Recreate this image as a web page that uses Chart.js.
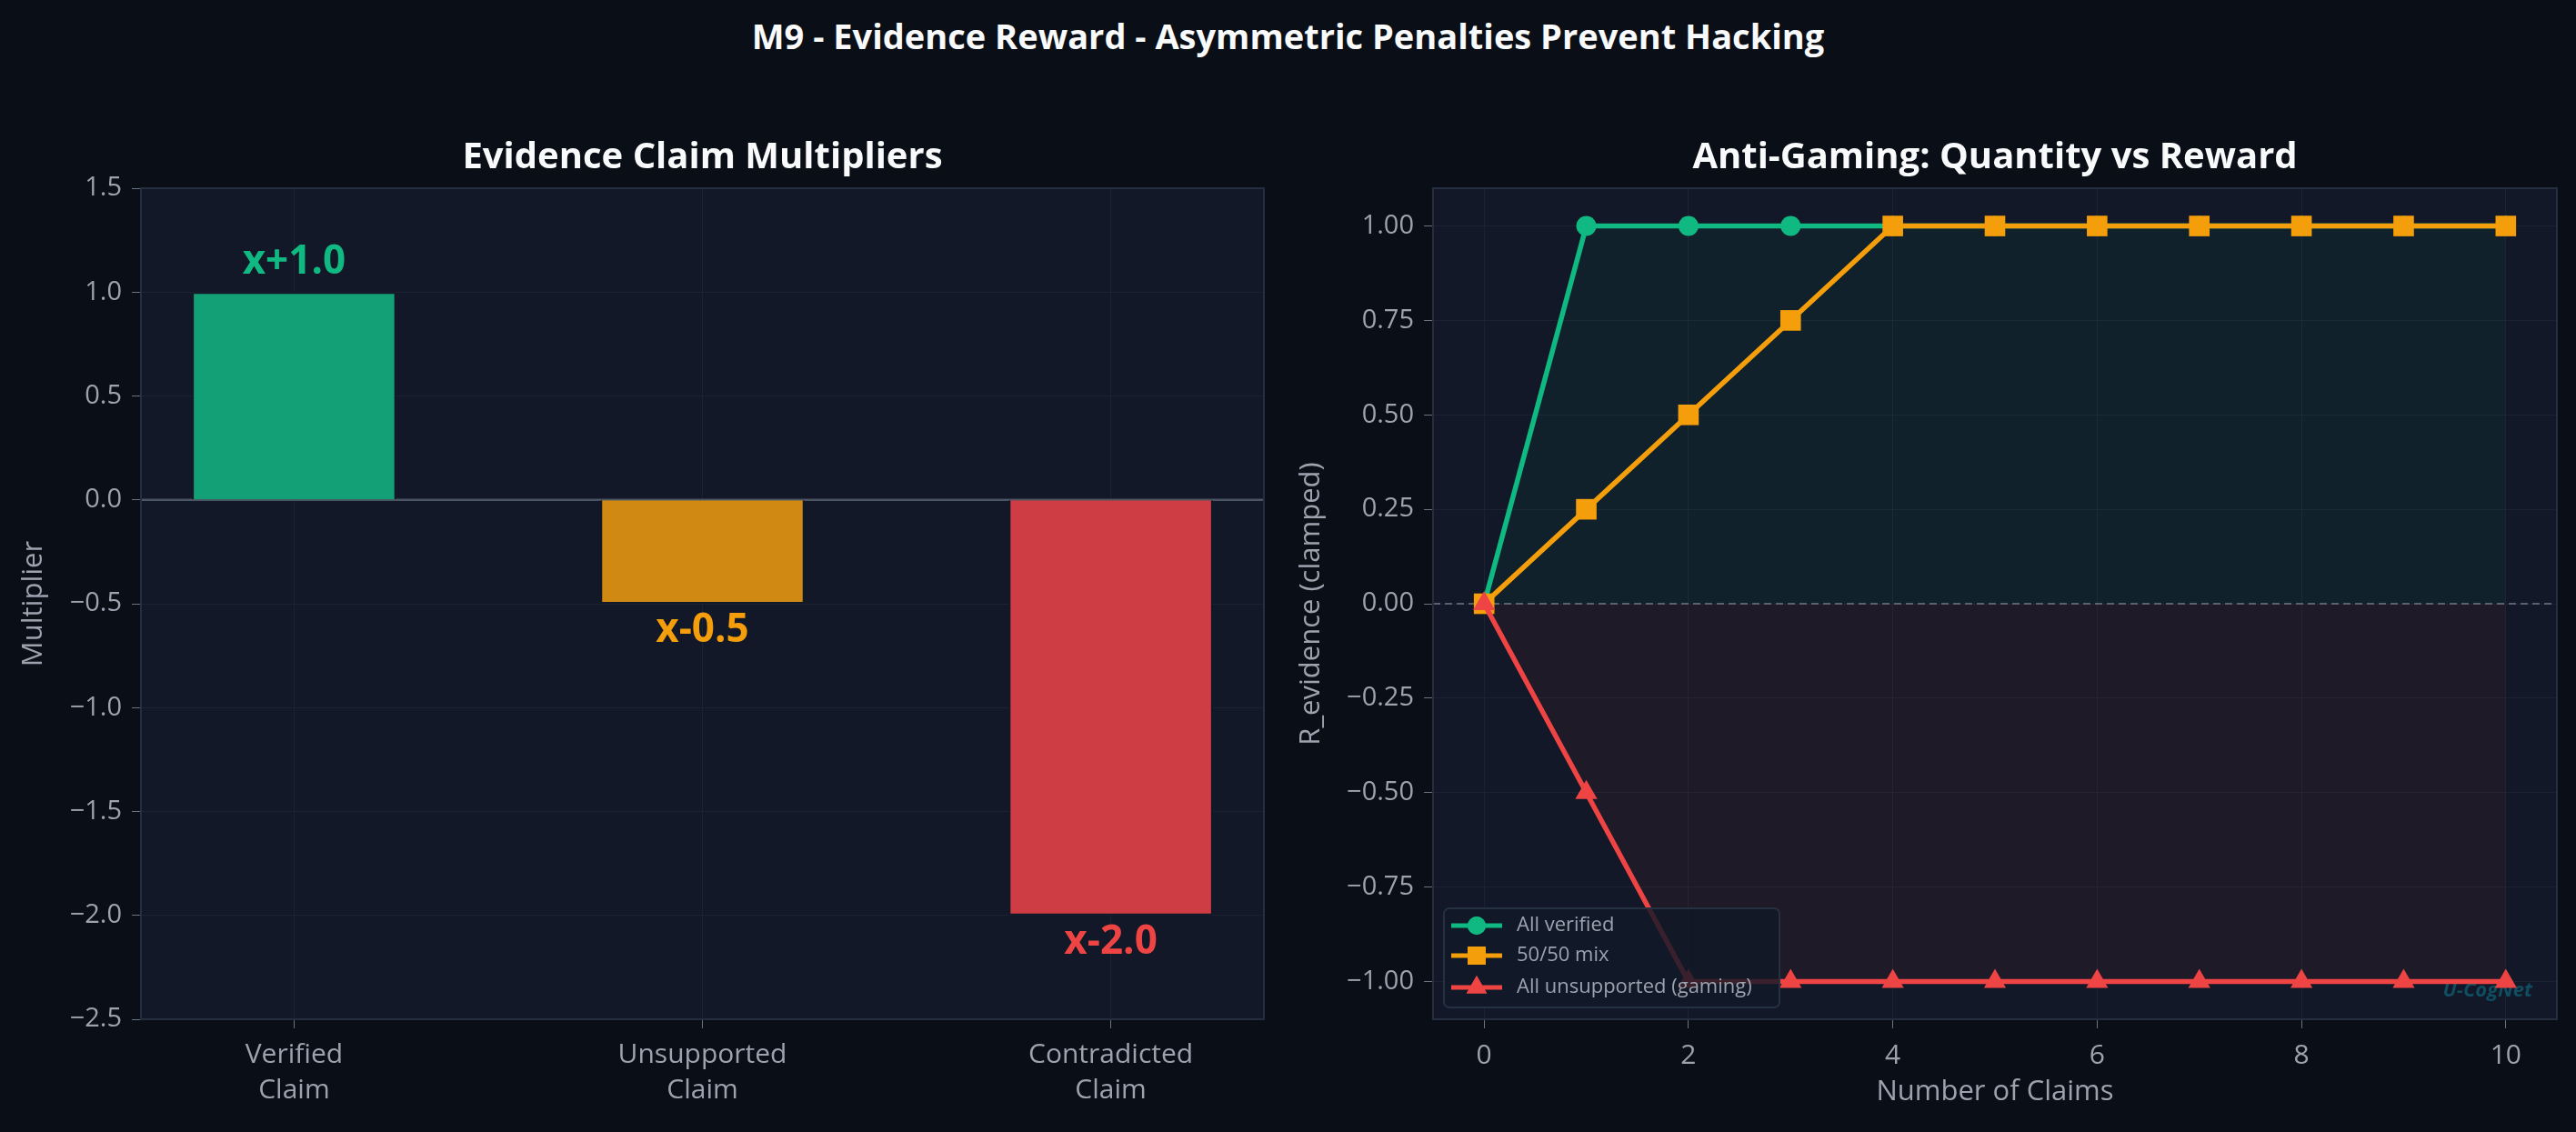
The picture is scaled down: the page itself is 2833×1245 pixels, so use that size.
<!DOCTYPE html>
<html>
<head>
<meta charset="utf-8">
<script src="https://cdn.jsdelivr.net/npm/chart.js@4.4.1/dist/chart.umd.min.js"></script>
<style>
  html, body { margin: 0; padding: 0; background: #0a0e16; }
  #wrap { position: relative; width: 2833px; height: 1245px; overflow: hidden; background: #0a0e16; }
  #suptitle { position: absolute; left: 0; top: 13px; width: 2833px; text-align: center; color: #f9fafb;
              font: bold 38px "Open Sans", sans-serif; }
  .box { position: absolute; top: 0; height: 1245px; }
</style>
</head>
<body>
<div id="wrap">
  <div id="suptitle">M9 - Evidence Reward - Asymmetric Penalties Prevent Hacking</div>
  <div class="box" style="left:0;width:1420px"><canvas id="barChart"></canvas></div>
  <div class="box" style="left:1420px;width:1413px"><canvas id="lineChart"></canvas></div>
</div>
<script>
// data
const claimTypes = [["Verified", "Claim"], ["Unsupported", "Claim"], ["Contradicted", "Claim"]];
const multipliers = [1.0, -0.5, -2.0];
const multiplierLabels = ["x+1.0", "x-0.5", "x-2.0"];
const barColors = ["#13a077", "#d08912", "#cd3d43"];
const labelColors = ["#10b981", "#f59e0b", "#ef4444"];
const multiplierTicks = [-2.5, -2.0, -1.5, -1.0, -0.5, 0.0, 0.5, 1.0, 1.5];

const numClaims = [0, 1, 2, 3, 4, 5, 6, 7, 8, 9, 10];
const allVerified = [0, 1, 1, 1, 1, 1, 1, 1, 1, 1, 1];
const mixed = [0, 0.25, 0.5, 0.75, 1, 1, 1, 1, 1, 1, 1];
const allUnsupported = [0, -0.5, -1, -1, -1, -1, -1, -1, -1, -1, -1];
const claimTicks = [0, 2, 4, 6, 8, 10];
const rewardTicks = [-1.0, -0.75, -0.5, -0.25, 0, 0.25, 0.5, 0.75, 1.0];

const FONT = '"Open Sans", sans-serif';
const textColor = "#9ca3af";
const gridColor = "#1b2231";
const plotBg = "#121827";
const spineColor = "#252e3e";

function fmt(v, d) {
  return (v < 0 ? "\u2212" : "") + Math.abs(v).toFixed(d);
}

// plot background, frame and title centred over the plot area
const plotFrame = {
  id: "plotFrame",
  beforeDraw(chart, args, opts) {
    const { ctx, chartArea: a } = chart;
    ctx.save();
    ctx.fillStyle = plotBg;
    ctx.fillRect(a.left, a.top, a.right - a.left, a.bottom - a.top);
    ctx.restore();
  },
  afterDraw(chart, args, opts) {
    const { ctx, chartArea: a } = chart;
    ctx.save();
    ctx.strokeStyle = spineColor;
    ctx.lineWidth = 2;
    ctx.strokeRect(a.left, a.top, a.right - a.left, a.bottom - a.top);
    ctx.fillStyle = "#f9fafb";
    ctx.font = "bold 40px " + FONT;
    ctx.textAlign = "center";
    ctx.textBaseline = "middle";
    ctx.fillText(opts.text, (a.left + a.right) / 2, a.top - 33);
    ctx.restore();
  }
};

// zero line for the bar chart (solid, under bars)
const zeroLineSolid = {
  id: "zeroLineSolid",
  beforeDatasetsDraw(chart) {
    const { ctx, chartArea: a, scales } = chart;
    const y = scales.y.getPixelForValue(0);
    ctx.save();
    ctx.strokeStyle = "#4b5563";
    ctx.lineWidth = 2.5;
    ctx.beginPath();
    ctx.moveTo(a.left, y);
    ctx.lineTo(a.right, y);
    ctx.stroke();
    ctx.restore();
  }
};

// value labels on bars
const barLabels = {
  id: "barLabels",
  afterDatasetsDraw(chart) {
    const { ctx, scales } = chart;
    ctx.save();
    ctx.font = "bold 44px " + FONT;
    ctx.textAlign = "center";
    ctx.textBaseline = "alphabetic";
    multipliers.forEach((v, i) => {
      const x = scales.x.getPixelForValue(i);
      const yv = scales.y.getPixelForValue(v);
      ctx.fillStyle = labelColors[i];
      if (v >= 0) ctx.fillText(multiplierLabels[i], x, yv - 20);
      else ctx.fillText(multiplierLabels[i], x, yv + 42);
    });
    ctx.restore();
  }
};

new Chart(document.getElementById("barChart"), {
  type: "bar",
  data: {
    datasets: [{
      data: multipliers.map((v, i) => ({ x: i, y: v })),
      backgroundColor: barColors,
      borderColor: plotBg,
      borderWidth: 2,
      categoryPercentage: 1,
      barPercentage: 0.5
    }]
  },
  options: {
    responsive: true,
    maintainAspectRatio: false,
    animation: false,
    layout: { padding: { left: 0, right: 30, top: 207, bottom: 0 } },
    plugins: {
      legend: { display: false },
      tooltip: { enabled: false },
      title: { display: false },
      plotFrame: { text: "Evidence Claim Multipliers" }
    },
    scales: {
      x: {
        type: "linear",
        offset: false,
        min: -0.375,
        max: 2.375,
        afterFit: s => { s.height = 124; },
        afterBuildTicks: s => { s.ticks = claimTypes.map((c, i) => ({ value: i })); },
        ticks: {
          callback: v => claimTypes[v],
          color: textColor,
          font: { family: FONT, size: 30, lineHeight: 1.3 },
          padding: 10
        },
        grid: { color: gridColor, tickColor: "#6b7280", tickLength: 10, offset: false },
        border: { display: false }
      },
      y: {
        min: -2.5,
        max: 1.5,
        afterFit: s => { s.width = 155; },
        afterBuildTicks: s => { s.ticks = multiplierTicks.map(v => ({ value: v })); },
        ticks: {
          callback: v => fmt(v, 1),
          color: textColor,
          font: { family: FONT, size: 29 },
          padding: 11
        },
        grid: { color: gridColor, tickColor: "#6b7280", tickLength: 10 },
        border: { display: false },
        title: {
          display: true,
          text: "Multiplier",
          color: textColor,
          font: { family: FONT, size: 31 },
          padding: { top: 19 }
        }
      }
    }
  },
  plugins: [plotFrame, zeroLineSolid, barLabels]
});

// line chart helpers
const series = [
  { label: "All verified", data: allVerified, color: "#10b981", style: "circle", radius: 11 },
  { label: "50/50 mix", data: mixed, color: "#f59e0b", style: "rect", radius: 16 },
  { label: "All unsupported (gaming)", data: allUnsupported, color: "#ef4444", style: "triangle", radius: 14 }
];

const zeroLineDashed = {
  id: "zeroLineDashed",
  beforeDatasetsDraw(chart) {
    const { ctx, chartArea: a, scales } = chart;
    const y = scales.y.getPixelForValue(0);
    ctx.save();
    ctx.strokeStyle = "rgba(107,114,128,0.8)";
    ctx.lineWidth = 2;
    ctx.setLineDash([8, 5]);
    ctx.beginPath();
    ctx.moveTo(a.left, y);
    ctx.lineTo(a.right, y);
    ctx.stroke();
    ctx.restore();
    // watermark
    ctx.save();
    ctx.font = "italic bold 22px " + FONT;
    ctx.fillStyle = "#0f4d61";
    ctx.textAlign = "right";
    ctx.textBaseline = "middle";
    ctx.fillText("U-CogNet", a.right - 27, a.bottom - 31);
    ctx.restore();
  }
};

const innerLegend = {
  id: "innerLegend",
  afterDraw(chart) {
    const { ctx, chartArea: a } = chart;
    const bx = a.left + 12, by = a.bottom - 122, bw = 369, bh = 109;
    ctx.save();
    ctx.fillStyle = "rgba(17,24,39,0.82)";
    ctx.strokeStyle = "#253041";
    ctx.lineWidth = 2;
    ctx.beginPath();
    ctx.roundRect(bx, by, bw, bh, 6);
    ctx.fill();
    ctx.stroke();
    const rows = [by + 19, by + 52, by + 87];
    series.forEach((s, i) => {
      const y = rows[i];
      ctx.strokeStyle = s.color;
      ctx.lineWidth = 5;
      ctx.setLineDash([]);
      ctx.beginPath();
      ctx.moveTo(bx + 8, y);
      ctx.lineTo(bx + 64, y);
      ctx.stroke();
      ctx.fillStyle = s.color;
      Chart.helpers.drawPoint(ctx, { pointStyle: s.style, radius: s.style === "rect" ? 14 : s.radius - 1, rotation: 0, borderWidth: 0 }, bx + 36, y);
      ctx.fill();
      ctx.fillStyle = textColor;
      ctx.font = "22px " + FONT;
      ctx.textAlign = "left";
      ctx.textBaseline = "middle";
      ctx.fillText(s.label, bx + 80, y);
    });
    ctx.restore();
  }
};

new Chart(document.getElementById("lineChart"), {
  type: "line",
  data: {
    datasets: series.map((s, i) => ({
      label: s.label,
      data: numClaims.map((n, j) => ({ x: n, y: s.data[j] })),
      borderColor: s.color,
      backgroundColor: i === 0 ? "rgba(16,185,129,0.06)" : i === 2 ? "rgba(239,68,68,0.055)" : s.color,
      fill: i === 1 ? false : "origin",
      borderWidth: 5.5,
      pointStyle: s.style,
      pointRadius: s.radius,
      pointBackgroundColor: s.color,
      pointBorderColor: s.color,
      pointBorderWidth: 0,
      tension: 0,
      order: 2 - i
    }))
  },
  options: {
    responsive: true,
    maintainAspectRatio: false,
    animation: false,
    layout: { padding: { left: 0, right: 21, top: 207, bottom: 0 } },
    plugins: {
      legend: { display: false },
      tooltip: { enabled: false },
      title: { display: false },
      plotFrame: { text: "Anti-Gaming: Quantity vs Reward" }
    },
    scales: {
      x: {
        type: "linear",
        min: -0.5,
        max: 10.5,
        afterFit: s => { s.height = 124; },
        afterBuildTicks: s => { s.ticks = claimTicks.map(v => ({ value: v })); },
        ticks: {
          callback: v => String(v),
          color: textColor,
          font: { family: FONT, size: 30 },
          padding: 12
        },
        grid: { color: gridColor, tickColor: "#6b7280", tickLength: 10 },
        border: { display: false },
        title: {
          display: true,
          text: "Number of Claims",
          color: textColor,
          font: { family: FONT, size: 31 },
          padding: { bottom: 25 }
        }
      },
      y: {
        min: -1.1,
        max: 1.1,
        afterFit: s => { s.width = 156; },
        afterBuildTicks: s => { s.ticks = rewardTicks.map(v => ({ value: v })); },
        ticks: {
          callback: v => fmt(v, 2),
          color: textColor,
          font: { family: FONT, size: 29 },
          padding: 11
        },
        grid: { color: gridColor, tickColor: "#6b7280", tickLength: 10 },
        border: { display: false },
        title: {
          display: true,
          text: "R_evidence (clamped)",
          color: textColor,
          font: { family: FONT, size: 31 },
          padding: { top: 4 }
        }
      }
    }
  },
  plugins: [plotFrame, zeroLineDashed, innerLegend]
});
</script>
</body>
</html>
